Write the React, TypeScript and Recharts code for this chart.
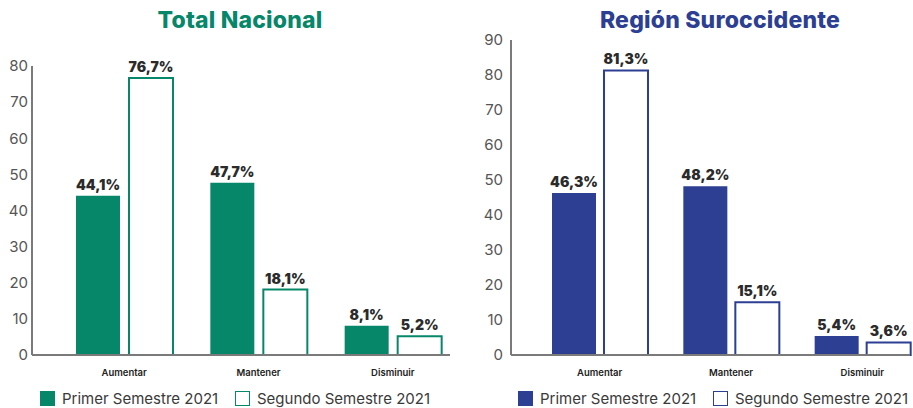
import { BarChart, Bar, XAxis, YAxis, LabelList } from "recharts";

const categories = ["Aumentar", "Mantener", "Disminuir"];
const nacionalPrimer = [44.1, 47.7, 8.1];
const nacionalSegundo = [76.7, 18.1, 5.2];
const surPrimer = [46.3, 48.2, 5.4];
const surSegundo = [81.3, 15.1, 3.6];
const nacionalTicks = [0, 10, 20, 30, 40, 50, 60, 70, 80];
const surTicks = [0, 10, 20, 30, 40, 50, 60, 70, 80, 90];
const seriesNames = ["Primer Semestre 2021", "Segundo Semestre 2021"];

const FONT = "Inter, 'Noto Sans', sans-serif";
const GREEN = "#07876a";
const NAVY = "#2c3f92";

const fmt = (v: unknown) => `${Number(v).toFixed(1).replace(".", ",")}%`;

type PanelProps = {
  title: string;
  color: string;
  primer: number[];
  segundo: number[];
  ticks: number[];
  width: number;
  yWidth: number;
  top: number;
  padLeft: number;
  padRight: number;
  barGap: number;
  titleX: number;
  legendX: [number, number];
};

function Panel(p: PanelProps) {
  const data = categories.map((c, i) => ({
    cat: c,
    primer: p.primer[i],
    segundo: p.segundo[i],
  }));
  const max = p.ticks[p.ticks.length - 1];
  return (
    <div style={{ position: "relative", width: p.width, height: 408 }}>
      <div
        style={{
          position: "absolute",
          left: p.titleX - 200,
          width: 400,
          top: 6,
          textAlign: "center",
          fontFamily: FONT,
          fontWeight: 800,
          fontSize: 23,
          color: p.color,
          letterSpacing: 0.2,
        }}
      >
        {p.title}
      </div>
      <BarChart
        width={p.width}
        height={408}
        data={data}
        margin={{ top: p.top, right: p.width - 450 > 0 ? p.width - 450 : 3, bottom: 23, left: 0 }}
        barSize={44}
        barGap={p.barGap}
        style={{ position: "absolute", left: 0, top: 0 }}
      >
        <XAxis
          dataKey="cat"
          height={30}
          tickLine={false}
          axisLine={{ stroke: "#7a7a7a", strokeWidth: 2 }}
          tickMargin={8}
          padding={{ left: p.padLeft, right: p.padRight }}
          tick={{ fontFamily: FONT, fontSize: 9.5, fontWeight: 600, fill: "#222" }}
          interval={0}
        />
        <YAxis
          width={p.yWidth}
          domain={[0, max]}
          ticks={p.ticks}
          tickLine={false}
          tickSize={0}
          tickMargin={p.yWidth - 28 > 4 ? 8 : 4}
          axisLine={{ stroke: "#7a7a7a", strokeWidth: 2 }}
          tick={{ fontFamily: FONT, fontSize: 15, fill: "#555" }}
        />
        <Bar dataKey="primer" fill={p.color} isAnimationActive={false}>
          <LabelList
            dataKey="primer"
            position="top"
            offset={6}
            formatter={fmt}
            style={{ fontFamily: FONT, fontSize: 14, fontWeight: 900, fill: "#2b2b2b" }}
          />
        </Bar>
        <Bar
          dataKey="segundo"
          fill="#ffffff"
          stroke={p.color}
          strokeWidth={2}
          isAnimationActive={false}
        >
          <LabelList
            dataKey="segundo"
            position="top"
            offset={6}
            formatter={fmt}
            style={{ fontFamily: FONT, fontSize: 14, fontWeight: 900, fill: "#2b2b2b" }}
          />
        </Bar>
      </BarChart>
      {seriesNames.map((name, i) => (
        <div
          key={name}
          style={{
            position: "absolute",
            left: p.legendX[i],
            top: 390,
            display: "flex",
            alignItems: "center",
            fontFamily: FONT,
            fontSize: 15,
            color: "#3a3a3a",
            lineHeight: "17px",
            whiteSpace: "nowrap",
          }}
        >
          <span
            style={{
              display: "inline-block",
              width: i === 0 ? 15 : 13,
              height: i === 0 ? 15 : 13,
              background: i === 0 ? p.color : "#fff",
              border: i === 0 ? "none" : `1px solid ${p.color}`,
              marginRight: 7,
            }}
          />
          <span>{name}</span>
        </div>
      ))}
    </div>
  );
}

export default function App() {
  return (
    <div
      style={{
        position: "absolute",
        left: 0,
        top: 0,
        width: 913,
        height: 408,
        background: "#fff",
        display: "flex",
        overflow: "hidden",
      }}
    >
      <Panel
        title="Total Nacional"
        color={GREEN}
        primer={nacionalPrimer}
        segundo={nacionalSegundo}
        ticks={nacionalTicks}
        width={460}
        yWidth={32}
        top={66}
        padLeft={25}
        padRight={-10}
        barGap={9}
        titleX={240}
        legendX={[40, 235]}
      />
      <Panel
        title="Región Suroccidente"
        color={NAVY}
        primer={surPrimer}
        segundo={surSegundo}
        ticks={surTicks}
        width={453}
        yWidth={51}
        top={40}
        padLeft={23}
        padRight={-18}
        barGap={8}
        titleX={260}
        legendX={[58, 253]}
      />
    </div>
  );
}
